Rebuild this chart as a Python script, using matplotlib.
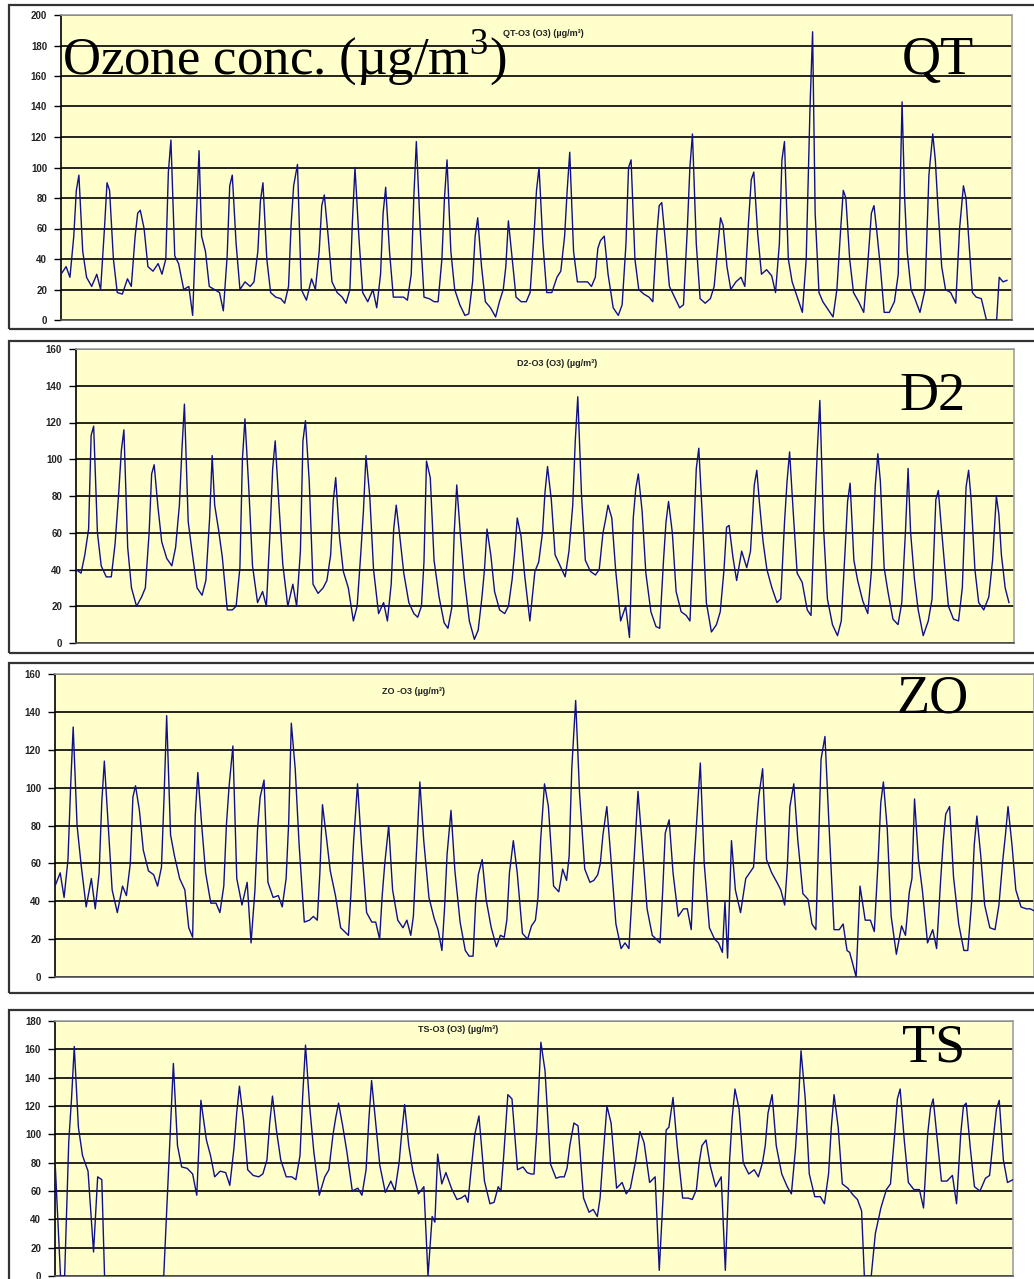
import numpy as np
import matplotlib
matplotlib.use('Agg')
import matplotlib.pyplot as plt
from matplotlib.patches import Rectangle

plt.rcParams['mathtext.fontset'] = 'custom'
plt.rcParams['mathtext.rm'] = 'Liberation Serif'

# sample hours within each day (hourly ozone record, thinned)
HOURS = [0, 4, 7, 10, 12, 14, 17, 20]

# O3 concentrations (ug/m3), one row per day
qt = [
    [30, 35, 28, 55, 85, 95, 45, 28],
    [22, 30, 20, 60, 90, 85, 40, 18],
    [17, 27, 22, 55, 70, 72, 60, 35],
    [32, 37, 30, 40, 97, 118, 42, 37],
    [20, 22, 3, 70, 111, 55, 45, 22],
    [20, 18, 6, 42, 88, 95, 50, 20],
    [25, 22, 25, 45, 78, 90, 40, 18],
    [15, 14, 11, 22, 62, 88, 102, 20],
    [13, 27, 20, 45, 75, 82, 55, 25],
    [18, 15, 11, 20, 65, 100, 55, 18],
    [12, 20, 8, 30, 70, 87, 45, 15],
    [15, 15, 13, 30, 80, 117, 60, 15],
    [14, 12, 12, 40, 80, 105, 45, 20],
    [10, 3, 4, 25, 55, 67, 35, 12],
    [8, 2, 12, 20, 35, 65, 40, 15],
    [12, 12, 18, 55, 85, 100, 50, 18],
    [18, 28, 32, 55, 85, 110, 45, 25],
    [25, 25, 22, 28, 47, 52, 55, 30],
    [8, 3, 10, 50, 100, 105, 40, 20],
    [17, 15, 12, 55, 75, 77, 50, 22],
    [15, 8, 10, 60, 100, 122, 50, 14],
    [11, 14, 22, 50, 67, 62, 35, 20],
    [25, 28, 22, 66, 92, 97, 57, 30],
    [33, 29, 18, 50, 105, 117, 40, 25],
    [15, 5, 40, 140, 189, 70, 18, 12],
    [7, 2, 20, 60, 85, 80, 40, 18],
    [12, 5, 35, 70, 75, 60, 35, 5],
    [5, 12, 30, 143, 80, 45, 20, 14],
    [5, 20, 95, 122, 105, 75, 35, 20],
    [18, 11, 60, 88, 80, 55, 18, 15],
    [14, 0, 0, 0, 0, 28, 25, 26],
]

d2 = [
    [40, 38, 48, 62, 113, 118, 60, 42],
    [36, 36, 54, 83, 105, 116, 52, 30],
    [20, 25, 30, 60, 92, 97, 74, 55],
    [46, 42, 52, 75, 105, 130, 66, 50],
    [30, 26, 34, 68, 102, 75, 62, 47],
    [18, 18, 20, 41, 100, 122, 85, 42],
    [22, 28, 20, 62, 95, 110, 75, 43],
    [20, 32, 20, 50, 110, 121, 88, 32],
    [27, 30, 34, 48, 77, 90, 58, 39],
    [30, 12, 20, 50, 72, 102, 80, 40],
    [16, 22, 12, 32, 62, 75, 57, 38],
    [22, 16, 14, 20, 44, 99, 90, 45],
    [25, 11, 8, 19, 60, 86, 58, 35],
    [12, 2, 7, 25, 40, 62, 48, 28],
    [18, 16, 20, 35, 50, 68, 58, 36],
    [12, 39, 44, 60, 82, 96, 78, 48],
    [42, 36, 50, 75, 110, 134, 80, 45],
    [39, 37, 40, 60, 67, 75, 68, 40],
    [12, 20, 3, 68, 84, 92, 72, 38],
    [17, 9, 8, 45, 66, 77, 60, 28],
    [17, 15, 12, 60, 95, 106, 66, 22],
    [6, 10, 17, 40, 63, 64, 47, 34],
    [50, 41, 50, 86, 94, 77, 55, 40],
    [30, 22, 24, 66, 88, 104, 70, 38],
    [33, 18, 15, 72, 105, 132, 62, 24],
    [10, 4, 12, 50, 77, 87, 45, 34],
    [23, 16, 40, 86, 103, 88, 41, 28],
    [13, 10, 22, 62, 95, 60, 35, 18],
    [4, 12, 24, 78, 83, 66, 42, 20],
    [13, 12, 30, 85, 94, 78, 40, 22],
    [18, 25, 45, 80, 70, 48, 30, 22],
]

zo = [
    [48, 55, 42, 62, 100, 132, 80, 60],
    [37, 52, 36, 55, 92, 114, 80, 46],
    [34, 48, 43, 60, 95, 101, 88, 67],
    [56, 54, 48, 58, 95, 138, 75, 64],
    [52, 46, 26, 21, 85, 108, 80, 55],
    [39, 39, 34, 48, 80, 100, 122, 52],
    [38, 50, 18, 46, 78, 95, 104, 50],
    [42, 43, 37, 52, 82, 134, 110, 70],
    [29, 30, 32, 30, 55, 91, 74, 56],
    [43, 26, 24, 22, 45, 72, 102, 70],
    [34, 29, 29, 20, 43, 60, 80, 46],
    [30, 26, 30, 22, 32, 60, 103, 72],
    [42, 31, 25, 14, 36, 65, 88, 56],
    [29, 14, 11, 11, 40, 54, 62, 41],
    [26, 16, 22, 21, 30, 55, 72, 55],
    [23, 20, 27, 30, 42, 72, 102, 90],
    [48, 45, 57, 51, 64, 110, 146, 97],
    [57, 50, 51, 54, 60, 75, 90, 64],
    [28, 15, 18, 15, 38, 62, 98, 72],
    [36, 22, 20, 18, 45, 76, 83, 55],
    [32, 36, 36, 25, 58, 80, 113, 60],
    [26, 20, 18, 13, 40, 10, 72, 46],
    [34, 52, 55, 58, 78, 95, 110, 62],
    [55, 50, 46, 38, 58, 90, 102, 73],
    [44, 41, 28, 25, 70, 115, 127, 82],
    [25, 25, 28, 14, 13, 8, 0, 48],
    [30, 30, 24, 62, 92, 103, 78, 32],
    [12, 27, 22, 45, 52, 94, 62, 46],
    [18, 25, 15, 50, 71, 86, 90, 53],
    [28, 14, 14, 40, 70, 85, 64, 38],
    [26, 25, 38, 62, 75, 90, 70, 46],
    [37, 36, 36, 35],
]

ts = [
    [82, 0, 0, 95, 125, 162, 105, 85],
    [74, 17, 70, 68, 0, 0, 0, 0],
    [0, 0, 0, 0, 0, 0, 0, 0],
    [0, 0, 0, 65, 110, 150, 92, 77],
    [76, 72, 57, 124, 110, 96, 85, 70],
    [74, 73, 64, 90, 115, 134, 110, 75],
    [71, 70, 72, 82, 108, 127, 102, 82],
    [70, 70, 68, 85, 128, 163, 120, 88],
    [57, 70, 75, 100, 112, 122, 106, 88],
    [60, 62, 57, 75, 110, 138, 108, 78],
    [59, 67, 60, 80, 102, 121, 92, 74],
    [58, 63, 0, 42, 38, 86, 65, 73],
    [62, 54, 55, 57, 52, 72, 100, 113],
    [67, 51, 52, 63, 60, 85, 128, 125],
    [75, 77, 73, 72, 72, 102, 165, 145],
    [79, 69, 70, 70, 76, 92, 108, 106],
    [55, 45, 47, 42, 55, 82, 120, 108],
    [62, 66, 58, 62, 72, 82, 102, 94],
    [66, 70, 4, 60, 103, 105, 126, 92],
    [55, 55, 54, 61, 80, 92, 96, 78],
    [63, 70, 4, 80, 112, 132, 118, 80],
    [72, 75, 70, 80, 92, 115, 128, 92],
    [72, 63, 58, 90, 120, 159, 126, 72],
    [56, 56, 51, 72, 105, 128, 105, 65],
    [62, 57, 54, 46, 0, 0, 0, 30],
    [48, 61, 65, 100, 125, 132, 96, 66],
    [61, 61, 48, 100, 118, 125, 96, 67],
    [67, 71, 51, 100, 120, 122, 90, 63],
    [60, 69, 71, 100, 118, 124, 82, 66],
    [68],
]

titles = ['QT-O3 (O3) (\u00b5g/m\u00b3)', 'D2-O3 (O3) (\u00b5g/m\u00b3)',
          'ZO -O3 (\u00b5g/m\u00b3)', 'TS-O3 (O3) (\u00b5g/m\u00b3)']
stations = ['QT', 'D2', 'ZO', 'TS']
ymax = [200, 160, 160, 180]
xmax = [744, 744, 754, 696]


def flatten(rows):
    t, v = [], []
    for d, row in enumerate(rows):
        for h, val in zip(HOURS, row):
            t.append(24 * d + h)
            v.append(val)
    return np.array(t), np.array(v)


W, H = 1034, 1279
fig = plt.figure(figsize=(W / 100, H / 100), dpi=100)
fig.patch.set_facecolor('white')

# pixel layout: plot area (left, top, right, bottom), outer frame (top, bottom)
plot_box = [(61, 15, 1012, 320), (76, 349, 1014, 643),
            (55, 674, 1034, 977), (55, 1021, 1013, 1276)]
frame_box = [(5, 329), (341, 653), (663, 993), (1010, 1300)]
title_xy = [(543, 33), (557, 363), (414, 692), (458, 1030)]
station_xy = [(902, 74), (899, 410), (896, 712), (902, 1062)]

for i, rows in enumerate([qt, d2, zo, ts]):
    ft, fb = frame_box[i]
    fig.patches.append(Rectangle((9 / W, 1 - fb / H), 1.2, (fb - ft) / H,
                                 transform=fig.transFigure, fill=False,
                                 edgecolor='#333333', linewidth=1.6, zorder=0))

    l, t, r, b = plot_box[i]
    ax = fig.add_axes([l / W, 1 - b / H, (r - l) / W, (b - t) / H])
    ax.set_facecolor('#ffffcc')
    x, y = flatten(rows)
    ax.plot(x, y, color='#10108a', linewidth=1.0, zorder=3)
    ax.set_xlim(0, xmax[i])
    ax.set_ylim(0, ymax[i])
    ax.set_yticks(np.arange(0, ymax[i] + 1, 20))
    ax.set_xticks([])
    ax.grid(axis='y', color='black', linewidth=1.2, zorder=1)
    ax.set_axisbelow(True)
    ax.tick_params(axis='y', direction='out', length=5, width=1, pad=5,
                   labelsize=7, labelcolor='#222222')
    for lab in ax.get_yticklabels():
        lab.set_fontweight('bold')
        lab.set_family('Liberation Sans')
    ax.spines['left'].set_color('black')
    ax.spines['bottom'].set_color('#555555')
    ax.spines['top'].set_color('#a0a0a0')
    ax.spines['right'].set_color('#a0a0a0')
    for s in ax.spines.values():
        s.set_linewidth(1.2)

    tx, ty = title_xy[i]
    fig.text(tx / W, 1 - ty / H, titles[i], ha='center', va='center',
             fontsize=6.5, fontweight='bold', color='#222222',
             family='Liberation Sans')
    sx, sy = station_xy[i]
    fig.text(sx / W, 1 - sy / H, stations[i], ha='left', va='baseline',
             fontsize=39, color='black', family='Liberation Serif')

fig.text(62 / W, 1 - 74 / H, 'Ozone conc. (\u00b5g/m$^{\\mathrm{3}}$)', ha='left',
         va='baseline', fontsize=38, color='black', family='Liberation Serif')

plt.savefig('out.png', dpi=100)
